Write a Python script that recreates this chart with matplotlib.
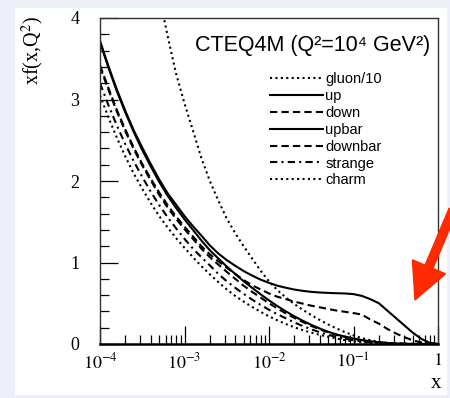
import numpy as np
import matplotlib
matplotlib.use("Agg")
import matplotlib.pyplot as plt
from matplotlib.patches import Rectangle, FancyArrow
from matplotlib.lines import Line2D

plt.rcParams['font.family'] = ['Liberation Serif', 'DejaVu Serif']
plt.rcParams['mathtext.fontset'] = 'stix'

# sampling grid in log10(x), step 0.1 from 1e-4 to 1
logx = np.linspace(-4.0, 0.0, 41)
x = 10 ** logx

nan = np.nan
# values, xf(x, Q^2)
up = [3.72, 3.41, 3.12, 2.86, 2.62, 2.41, 2.21, 2.02, 1.85, 1.71,
      1.57, 1.445, 1.33, 1.21, 1.11, 1.03, 0.96, 0.895, 0.84, 0.79,
      0.75, 0.715, 0.69, 0.668, 0.652, 0.64, 0.632, 0.627, 0.623, 0.62,
      0.612, 0.59, 0.55, 0.50, 0.41, 0.32, 0.23, 0.14, 0.065, 0.015,
      0.0]
upbar = [3.70, 3.39, 3.10, 2.84, 2.60, 2.38, 2.18, 1.99, 1.82, 1.67,
         1.53, 1.40, 1.27, 1.15, 1.05, 0.95, 0.86, 0.77, 0.69, 0.61,
         0.535, 0.465, 0.40, 0.34, 0.285, 0.235, 0.19, 0.15, 0.117, 0.09,
         0.067, 0.048, 0.033, 0.021, 0.013, 0.007, 0.003, 0.001, 0.0, 0.0,
         0.0]
down = [3.42, 3.14, 2.87, 2.63, 2.41, 2.21, 2.03, 1.86, 1.705, 1.565,
        1.44, 1.32, 1.20, 1.10, 1.015, 0.935, 0.86, 0.785, 0.72, 0.67,
        0.62, 0.58, 0.55, 0.52, 0.495, 0.47, 0.45, 0.43, 0.41, 0.395,
        0.38, 0.36, 0.30, 0.25, 0.185, 0.13, 0.085, 0.045, 0.02, 0.005,
        0.0]
downbar = [3.40, 3.12, 2.85, 2.61, 2.39, 2.19, 2.01, 1.83, 1.675, 1.535,
           1.41, 1.29, 1.17, 1.065, 0.975, 0.885, 0.80, 0.715, 0.64, 0.57,
           0.50, 0.435, 0.375, 0.32, 0.27, 0.222, 0.18, 0.143, 0.112, 0.086,
           0.064, 0.046, 0.031, 0.02, 0.012, 0.006, 0.003, 0.001, 0.0, 0.0,
           0.0]
strange = [3.20, 2.93, 2.68, 2.45, 2.24, 2.05, 1.87, 1.705, 1.555, 1.42,
           1.29, 1.17, 1.065, 0.965, 0.86, 0.77, 0.69, 0.615, 0.545, 0.48,
           0.42, 0.365, 0.315, 0.265, 0.22, 0.18, 0.145, 0.113, 0.086, 0.064,
           0.046, 0.032, 0.021, 0.013, 0.008, 0.004, 0.002, 0.001, 0.0, 0.0,
           0.0]
charm = [3.05, 2.78, 2.53, 2.30, 2.09, 1.905, 1.73, 1.57, 1.43, 1.30,
         1.18, 1.065, 0.955, 0.855, 0.76, 0.67, 0.59, 0.52, 0.455, 0.395,
         0.34, 0.29, 0.245, 0.205, 0.17, 0.14, 0.112, 0.088, 0.066, 0.047,
         0.032, 0.02, 0.012, 0.006, 0.003, 0.001, 0.0, 0.0, 0.0, 0.0,
         0.0]
gluon10 = [nan, nan, nan, nan, nan, nan, 4.75, 4.28, 3.78, 3.32,
           2.95, 2.62, 2.28, 2.00, 1.76, 1.54, 1.36, 1.20, 1.05, 0.90,
           0.77, 0.66, 0.57, 0.49, 0.42, 0.355, 0.295, 0.24, 0.19, 0.145,
           0.105, 0.072, 0.046, 0.027, 0.014, 0.006, 0.002, 0.0, 0.0, 0.0,
           0.0]

xticks = [1e-4, 1e-3, 1e-2, 1e-1, 1]
xticklabels = [r'$10^{-4}$', r'$10^{-3}$', r'$10^{-2}$', r'$10^{-1}$', r'$1$']

dot = (0, (1, 1.6))
dash = (0, (3.5, 2))
dashdot = (0, (3.5, 2, 1, 2))
series = [
    ('gluon/10', gluon10, dot),
    ('up', up, '-'),
    ('down', down, dash),
    ('upbar', upbar, '-'),
    ('downbar', downbar, dash),
    ('strange', strange, dashdot),
    ('charm', charm, dot),
]

W, H = 450, 398
fig = plt.figure(figsize=(W / 100, H / 100), dpi=100, facecolor='#eceff7')
fig.patches.append(Rectangle((15 / W, 1 - 395 / H), (447 - 15) / W, (395 - 8) / H,
                             transform=fig.transFigure, facecolor='white',
                             edgecolor='none', zorder=-1))

ax = fig.add_axes([100 / W, 1 - 344 / H, 338 / W, 326 / H])
ax.set_zorder(1)
ax.set_facecolor('white')

handles = []
for name, vals, ls in series:
    ax.plot(x, vals, color='black', lw=1.5, linestyle=ls)
    handles.append(Line2D([], [], color='black', lw=1.5, linestyle=ls))

ax.set_xscale('log')
ax.set_xlim(1e-4, 1)
ax.set_ylim(0, 4)
ax.set_xticks(xticks)
ax.set_xticklabels(xticklabels)
ax.set_yticks([0, 1, 2, 3, 4])
ax.yaxis.set_minor_locator(matplotlib.ticker.MultipleLocator(0.2))
ax.tick_params(which='both', direction='in', top=False, right=False, width=0.9,
               labelsize=13)
ax.tick_params(which='major', length=13)
ax.tick_params(which='minor', length=6.5)
ax.tick_params(axis='y', pad=15)
ax.tick_params(axis='x', pad=6)
for s in ax.spines.values():
    s.set_linewidth(1.0)
    s.set_color('#333333')
ax.spines['bottom'].set_linewidth(1.8)
ax.spines['bottom'].set_color('black')

fig.text(33 / W, 1 - 16 / H, r'xf(x,Q$^2$)', rotation=90, ha='center', va='top',
         fontsize=14.5)
fig.text(436 / W, 1 - 383 / H, 'x', ha='center', va='center', fontsize=15)

sans = ['Liberation Sans', 'DejaVu Sans']
fig.text(195 / W, 1 - 45 / H, 'CTEQ4M (Q²=10⁴ GeV²)', ha='left', va='center',
         fontsize=15.5, family=sans, zorder=3)

ax.legend(handles, [s[0] for s in series], loc='upper left',
          bbox_to_anchor=(270 / W, 1 - 72 / H), bbox_transform=fig.transFigure,
          frameon=False, borderpad=0, borderaxespad=0, handlelength=3.6,
          handletextpad=0.2, labelspacing=0.2,
          prop={'family': sans, 'size': 10.5})

# red arrow pointing at the valence bump
fig.add_artist(FancyArrow(4.53, 1.88, -0.38, -0.90, width=0.085, head_width=0.36,
                          head_length=0.36, length_includes_head=True,
                          color='#ff2a00', transform=fig.dpi_scale_trans,
                          zorder=5))

fig.savefig('out.png', dpi=100, facecolor=fig.get_facecolor())
